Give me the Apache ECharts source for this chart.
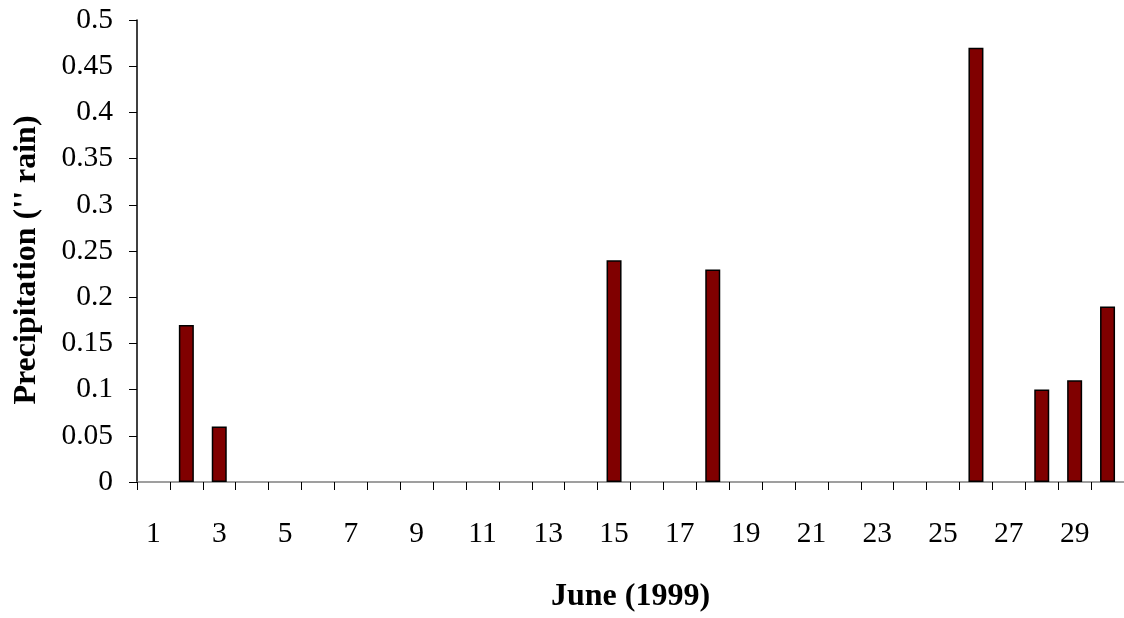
<!DOCTYPE html>
<html>
<head>
<meta charset="utf-8">
<script src="https://cdn.jsdelivr.net/npm/echarts@6/dist/echarts.min.js"></script>
<style>
html,body{margin:0;padding:0;background:#fff;}
#chart{width:1124px;height:618px;}
</style>
</head>
<body>
<div id="chart"></div>
<script>
const days = ['1','2','3','4','5','6','7','8','9','10','11','12','13','14','15','16','17','18','19','20','21','22','23','24','25','26','27','28','29','30'];
const precipitation = [0,0.17,0.06,0,0,0,0,0,0,0,0,0,0,0,0.24,0,0,0.23,0,0,0,0,0,0,0,0.47,0,0.10,0.11,0.19];
const yTicks = [0,0.05,0.1,0.15,0.2,0.25,0.3,0.35,0.4,0.45,0.5];
const xTitle = 'June (1999)';
const yTitle = "Precipitation ('' rain)";

const font = '"Liberation Serif","Times New Roman",serif';
const chart = echarts.init(document.getElementById('chart'));
chart.setOption({
  animation: false,
  backgroundColor: '#fff',
  grid: {left: 137, right: -13, top: 20, bottom: 129, containLabel: false},
  xAxis: {
    type: 'category',
    data: days,
    name: xTitle,
    nameLocation: 'middle',
    nameGap: 99,
    nameTextStyle: {fontFamily: font, fontSize: 32, fontWeight: 'bold', color: '#000'},
    axisLine: {lineStyle: {color: '#808080', width: 1.5}},
    axisTick: {show: true, interval: 0, length: 8, lineStyle: {color: '#000', width: 1}},
    axisLabel: {interval: 1, margin: 37, fontFamily: font, fontSize: 29.5, color: '#000'},
    splitLine: {show: false}
  },
  yAxis: {
    type: 'value',
    min: yTicks[0],
    max: yTicks[yTicks.length - 1],
    interval: 0.05,
    name: yTitle,
    nameLocation: 'middle',
    nameGap: 94,
    nameRotate: 90,
    nameTextStyle: {fontFamily: font, fontSize: 32, fontWeight: 'bold', color: '#000', padding: [0, 18, 0, 0]},
    axisLine: {show: true, lineStyle: {color: '#000', width: 1.5}},
    axisTick: {show: true, length: 8, lineStyle: {color: '#000', width: 1}},
    axisLabel: {margin: 24, fontFamily: font, fontSize: 29.5, color: '#000',
      formatter: v => String(+v.toFixed(2))},
    splitLine: {show: false}
  },
  series: [{
    type: 'bar',
    data: precipitation.map(v => v === 0 ? null : v),
    barWidth: 15,
    itemStyle: {color: '#800000', borderColor: '#000', borderWidth: 1.5}
  }]
});
</script>
</body>
</html>
